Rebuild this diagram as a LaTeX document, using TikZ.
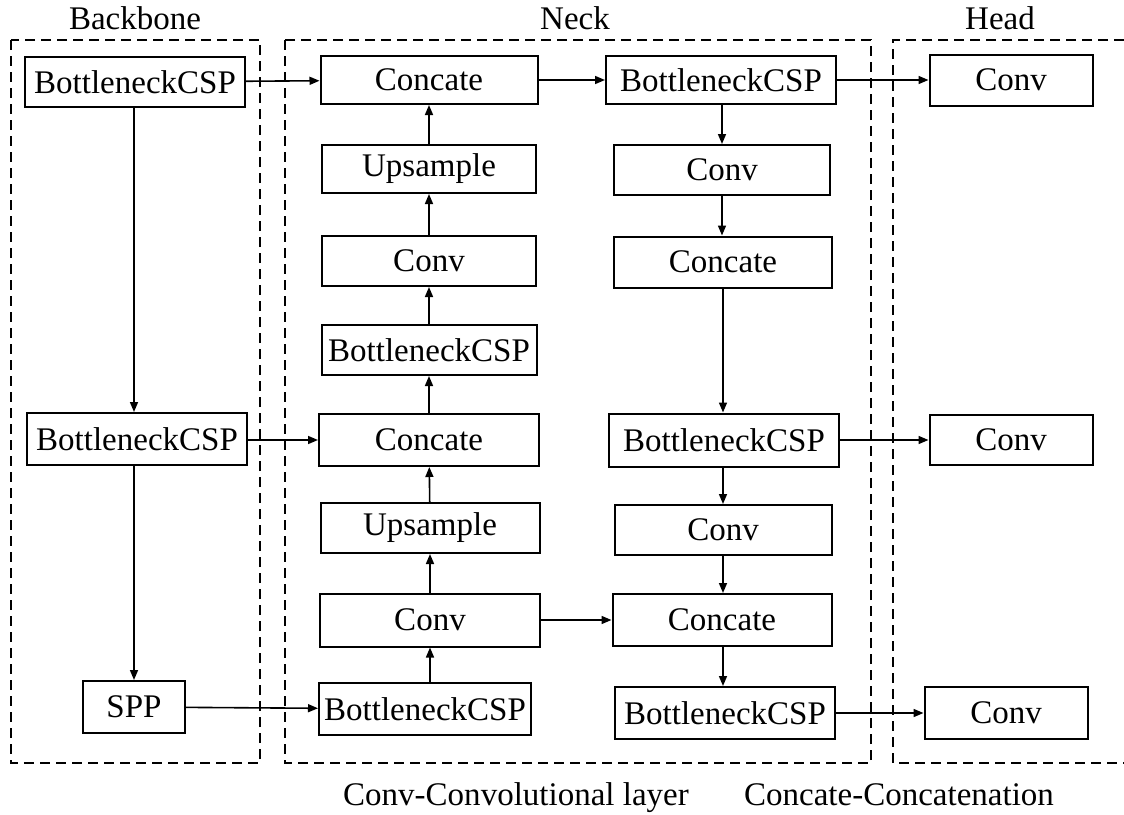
\documentclass[tikz,border=0pt]{standalone}
\usepackage{fontspec}
\setmainfont{Liberation Serif}
\usetikzlibrary{arrows.meta}
\tikzset{
  blk/.style={draw, line width=1pt, inner sep=0pt, minimum height=25pt, font=\fontsize{16.5}{18}\selectfont},
  grp/.style={draw, line width=1pt, dash pattern=on 5pt off 3pt},
  lnk/.style={-{Triangle[length=5pt,width=4pt]}, line width=0.8pt},
  ttl/.style={font=\fontsize{16.5}{18}\selectfont}
}
\begin{document}
\begin{tikzpicture}[x=0.5pt, y=-0.5pt]
\useasboundingbox (0,0) rectangle (1124,814);
% dashed groups
\draw[grp] (11,40) rectangle (260,763);
\draw[grp] (285,40) rectangle (871,763);
\draw[grp] (1124,40) -- (893,40) -- (893,763) -- (1124,763);
\node[ttl] (tbb) at (135,18){Backbone};
\node[ttl] (tnk) at (575,18){Neck};
\node[ttl] (thd) at (1000,18){Head};
% backbone
\node[blk, minimum width=110pt] (bbA) at (135,82){BottleneckCSP};
\node[blk, minimum width=110pt, minimum height=26pt] (bbB) at (137,439){BottleneckCSP};
\node[blk, minimum width=51pt, minimum height=26pt] (spp) at (134,707){SPP};
\draw[lnk](bbA.south -| spp) -- (bbB.north -| spp);
\draw[lnk](bbB.south -| spp) -- (spp);
% neck, upward column
\node[blk, minimum width=108.5pt, minimum height=24pt] (catA) at (429,80){Concate};
\node[blk, minimum width=107pt, minimum height=24pt] (upA) at (429,169){Upsample};
\node[blk, minimum width=107pt] (cvA) at (429,261){Conv};
\node[blk, minimum width=107.5pt] (bnA) at (429,350){BottleneckCSP};
\node[blk, minimum width=110pt, minimum height=26pt] (catB) at (429,440){Concate};
\node[blk, minimum width=109.5pt] (upB) at (430,528){Upsample};
\node[blk, minimum width=110pt, minimum height=26.5pt] (cvB) at (430,620){Conv};
\node[blk, minimum width=106pt, minimum height=26pt] (bnB) at (425,709){BottleneckCSP};
\draw[lnk](bnB.north -| cvB) -- (cvB);
\draw[lnk](cvB) -- (upB);
\draw[lnk](upB) -- (catB);
\draw[lnk](catB) -- (bnA);
\draw[lnk](bnA) -- (cvA);
\draw[lnk](cvA) -- (upA);
\draw[lnk](upA) -- (catA);
% neck, downward column
\node[blk, minimum width=115pt, minimum height=24pt] (rA) at (721,80){BottleneckCSP};
\node[blk, minimum width=108pt] (rB) at (722,170){Conv};
\node[blk, minimum width=109pt, minimum height=25.5pt] (rC) at (723,262){Concate};
\node[blk, minimum width=115pt, minimum height=26.5pt] (rD) at (724,440){BottleneckCSP};
\node[blk, minimum width=108.5pt] (rE) at (723,530){Conv};
\node[blk, minimum width=109.5pt, minimum height=26pt] (rF) at (722,620){Concate};
\node[blk, minimum width=110pt, minimum height=26pt] (rG) at (725,713){BottleneckCSP};
\draw[lnk](rA.south -| rB) -- (rB);
\draw[lnk](rB) -- (rC.north -| rB);
\draw[lnk](rC) -- (rD.north -| rC);
\draw[lnk](rD.south -| rE) -- (rE);
\draw[lnk](rE) -- (rF.north -| rE);
\draw[lnk](rF.south -| rE) -- (rG.north -| rE);
% head
\node[blk, minimum width=81.5pt, minimum height=25.5pt] (hA) at (1011,80){Conv};
\node[blk, minimum width=81.5pt] (hB) at (1011,440){Conv};
\node[blk, minimum width=81.5pt, minimum height=26pt] (hC) at (1006,713){Conv};
% cross links
\draw[lnk](bbA) -- (catA);
\draw[lnk](catA) -- (rA);
\draw[lnk](rA) -- (hA);
\draw[lnk](bbB.east |- catB) -- (catB);
\draw[lnk](rD) -- (hB);
\draw[lnk](spp) -- (bnB);
\draw[lnk](cvB) -- (rF);
\draw[lnk](rG) -- (hC);
% legend
\node[ttl, anchor=base] (kcv) at (516,805){Conv-Convolutional layer};
\node[ttl, anchor=base] (kct) at (899,805){Concate-Concatenation};
\end{tikzpicture}
\end{document}
